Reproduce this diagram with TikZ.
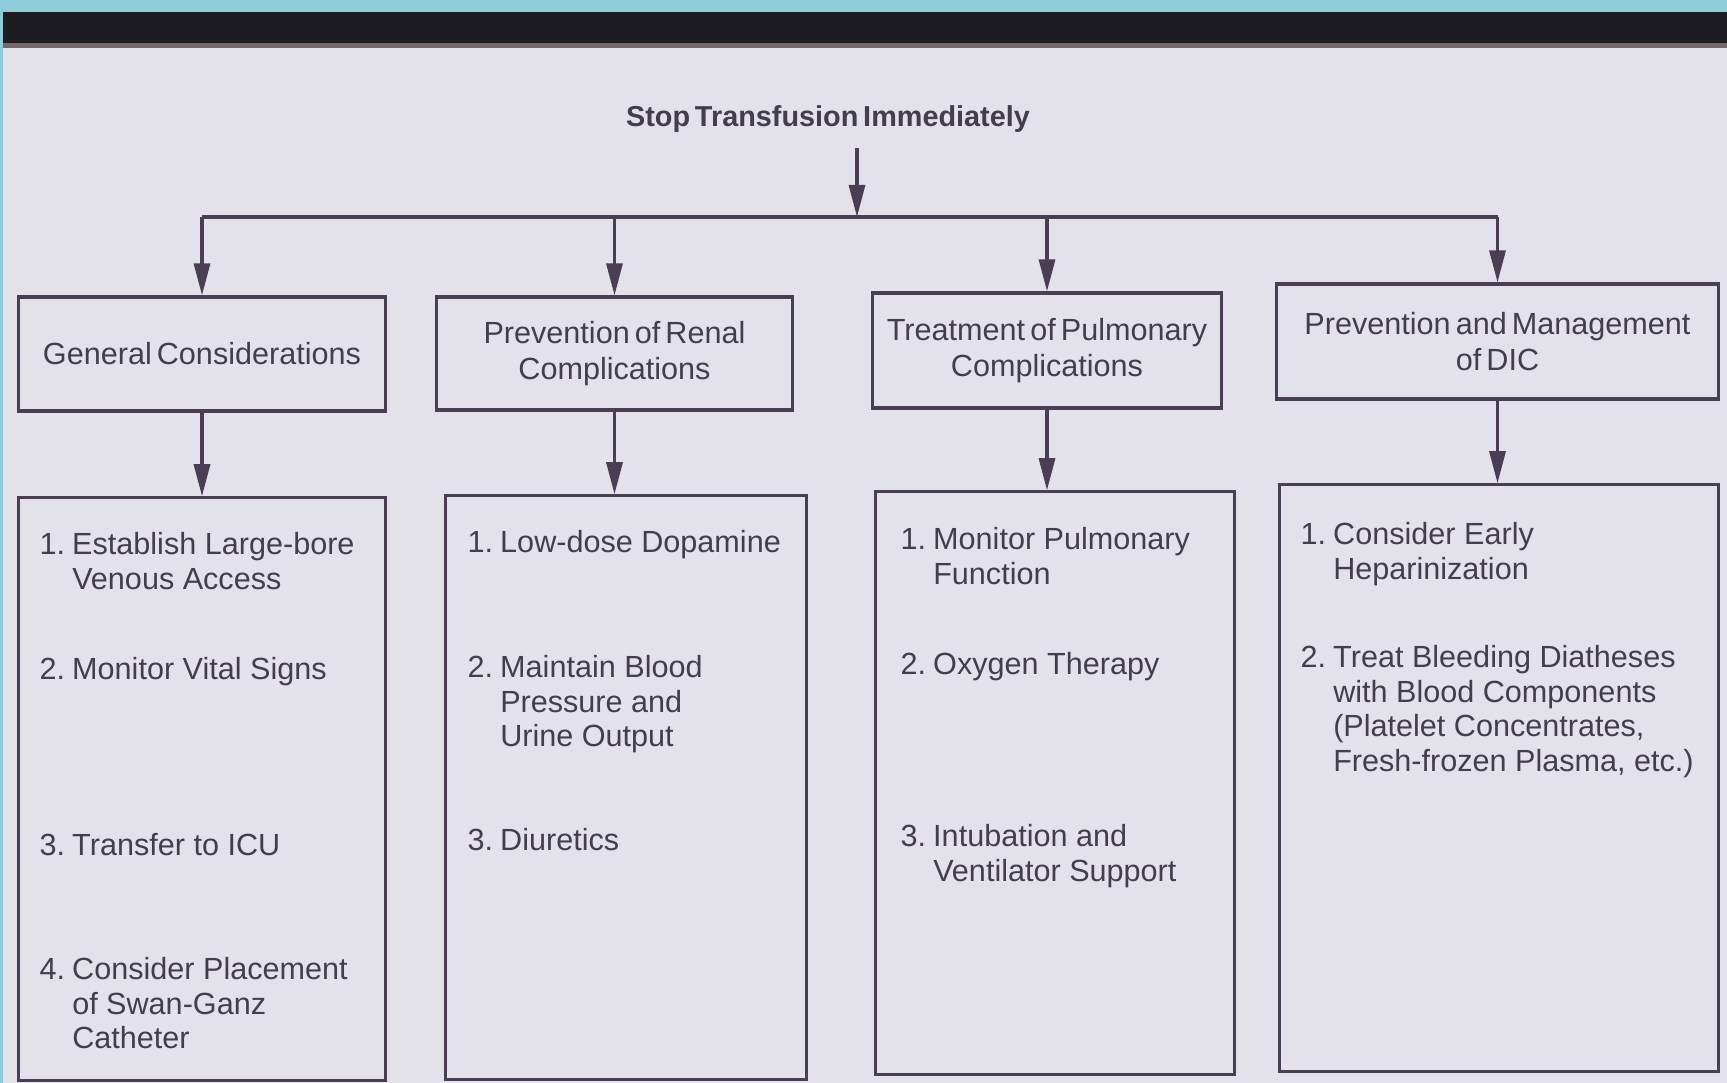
\documentclass[tikz,border=0pt]{standalone}
\usepackage{fontspec}
\setmainfont{Liberation Sans}
\newfontfamily\headfont{Liberation Sans}[WordSpace=0.6]
\usetikzlibrary{arrows.meta}

\definecolor{slide}{RGB}{227,225,234}
\definecolor{ink}{RGB}{74,62,84}
\definecolor{txt}{RGB}{68,62,76}
\definecolor{band}{RGB}{28,28,34}
\definecolor{rim}{RGB}{140,205,215}
\definecolor{lip}{RGB}{118,104,104}

\newcommand{\numitem}[2]{\begin{tabular}{@{}l@{\hspace{2pt}}l@{}}#1&#2\end{tabular}}

\begin{document}
\begin{tikzpicture}[
    x=0.01cm, y=-0.01cm,
    every node/.style={font=\fontsize{8.7}{9.8}\selectfont, text=txt},
    head/.style={rectangle, draw=ink, line width=0.9pt, align=center, inner sep=2pt,
                 font=\headfont\fontsize{8.7}{10.2}\selectfont},
    list/.style={rectangle, draw=ink, line width=0.9pt, inner sep=0pt},
    itm/.style={anchor=north west, inner sep=0pt},
    e/.style={draw=ink, line width=0.9pt, -{Triangle[length=3.2mm, width=1.6mm]}},
  ]
  \useasboundingbox (0,0) rectangle (1727,1083);
  % slide background
  \fill[slide] (0,0) rectangle (1727,1083);
  \fill[rim] (0,0) rectangle (1727,12);
  \fill[band] (0,12) rectangle (1727,46);
  \fill[lip] (0,43) rectangle (1727,48);
  \fill[rim] (0,12) rectangle (3,1083);

  \node[font=\headfont\bfseries\fontsize{8.2}{10}\selectfont] (stop) at (828,119) {Stop Transfusion Immediately};

  \node[head, minimum width=3.66cm, minimum height=1.14cm] (g1) at (202,354) {General Considerations};
  \node[head, minimum width=3.55cm, minimum height=1.13cm] (g2) at (614.5,353.5) {Prevention of Renal\\Complications};
  \node[head, minimum width=3.49cm, minimum height=1.15cm] (g3) at (1047,350.5) {Treatment of Pulmonary\\Complications};
  \node[head, minimum width=4.41cm, minimum height=1.15cm] (g4) at (1497.5,341.5) {Prevention and Management\\of DIC};

  \node[list, minimum width=3.66cm, minimum height=5.82cm] (l1) at (202,789) {};
  \node[list, minimum width=3.60cm, minimum height=5.83cm] (l2) at (626,787.5) {};
  \node[list, minimum width=3.58cm, minimum height=5.82cm] (l3) at (1055,783) {};
  \node[list, minimum width=4.38cm, minimum height=5.86cm] (l4) at (1499,778) {};

  % general considerations
  \node[itm] (a1) at (39,530) {\numitem{1.}{Establish Large-bore\\&Venous Access}};
  \node[itm] (a2) at (39,655) {\numitem{2.}{Monitor Vital Signs}};
  \node[itm] (a3) at (39,831) {\numitem{3.}{Transfer to ICU}};
  \node[itm] (a4) at (39,955) {\numitem{4.}{Consider Placement\\&of Swan-Ganz\\&Catheter}};
  % renal
  \node[itm] (b1) at (467,528) {\numitem{1.}{Low-dose Dopamine}};
  \node[itm] (b2) at (467,653) {\numitem{2.}{Maintain Blood\\&Pressure and\\&Urine Output}};
  \node[itm] (b3) at (467,826) {\numitem{3.}{Diuretics}};
  % pulmonary
  \node[itm] (c1) at (900,525) {\numitem{1.}{Monitor Pulmonary\\&Function}};
  \node[itm] (c2) at (900,650) {\numitem{2.}{Oxygen Therapy}};
  \node[itm] (c3) at (900,822) {\numitem{3.}{Intubation and\\&Ventilator Support}};
  % DIC
  \node[itm] (d1) at (1300,520) {\numitem{1.}{Consider Early\\&Heparinization}};
  \node[itm] (d2) at (1300,643) {\numitem{2.}{Treat Bleeding Diatheses\\&with Blood Components\\&(Platelet Concentrates,\\&Fresh-frozen Plasma, etc.)}};

  \coordinate (in) at (857,148);
  \coordinate (hub) at (857,217);
  \draw[e] (in) -- (hub);
  \draw[ink, line width=0.9pt] (g1.north |- hub) -- (g4.north |- hub);
  \foreach \g in {g1,g2,g3,g4}
    \draw[e] (\g.north |- hub) -- (\g.north);
  \foreach \g/\l in {g1/l1, g2/l2, g3/l3, g4/l4}
    \draw[e] (\g.south) -- (\g.south |- \l.north);
\end{tikzpicture}
\end{document}
